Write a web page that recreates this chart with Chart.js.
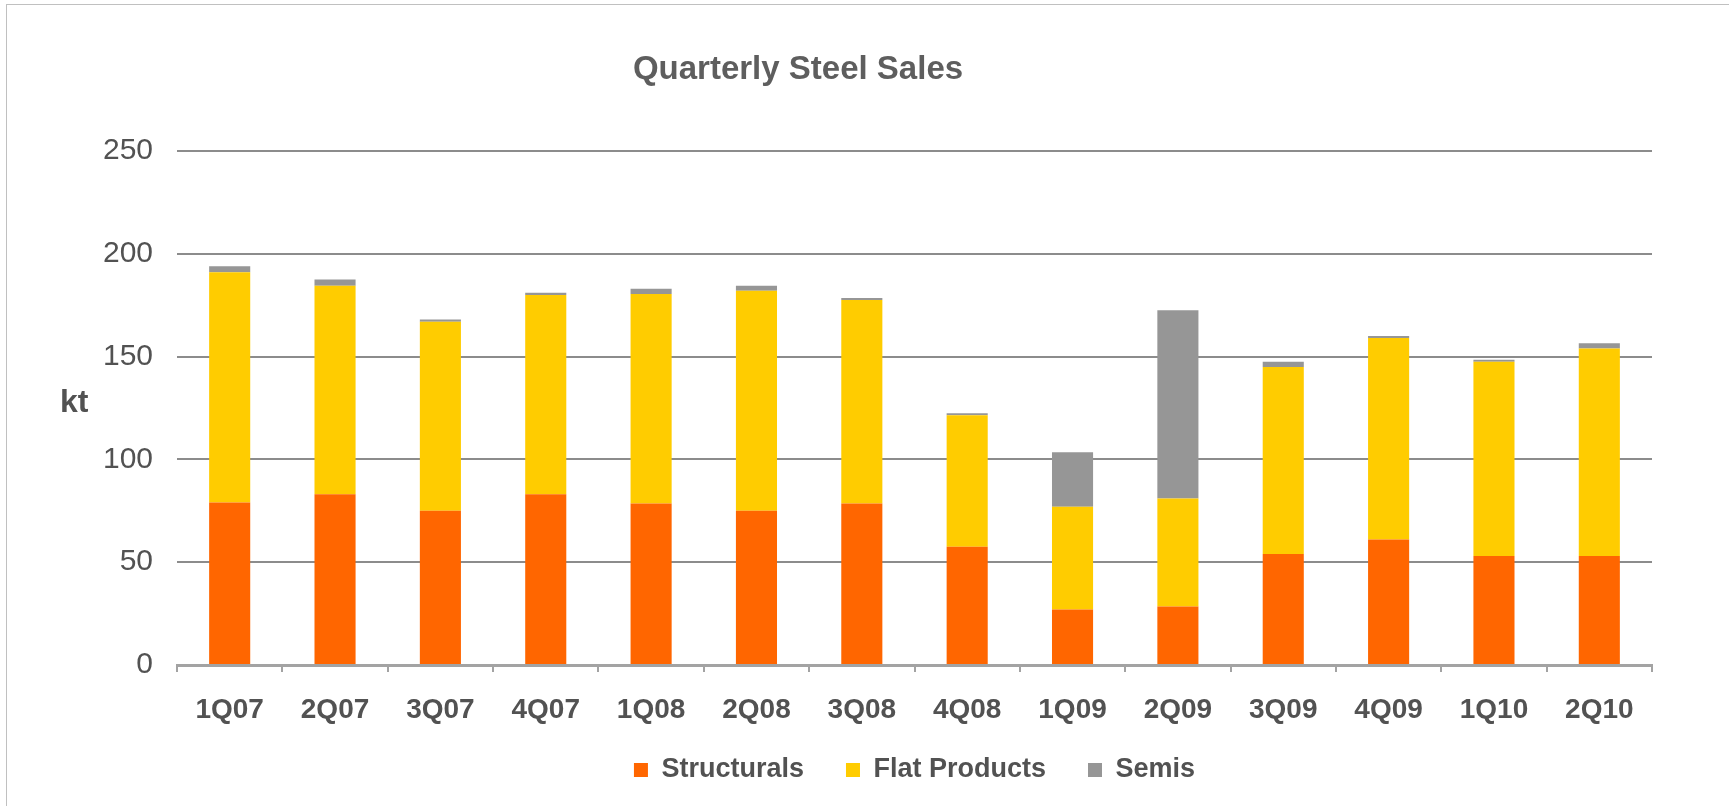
<!DOCTYPE html>
<html>
<head>
<meta charset="utf-8">
<title>Quarterly Steel Sales</title>
<script src="https://cdn.jsdelivr.net/npm/chart.js@4.4.1/dist/chart.umd.min.js"></script>
<style>
  html, body { margin: 0; padding: 0; background: #ffffff; }
  #wrap { position: relative; width: 1729px; height: 806px; }
</style>
</head>
<body>
<div id="wrap"><canvas id="chart"></canvas></div>
<script>
// Quarter labels along the x axis
const quarters = ['1Q07', '2Q07', '3Q07', '4Q07', '1Q08', '2Q08', '3Q08', '4Q08',
                  '1Q09', '2Q09', '3Q09', '4Q09', '1Q10', '2Q10'];

// Sales volumes in kt, stacked per quarter
const structurals  = [79, 83, 75, 83, 78.5, 75, 78.5, 57.5, 27, 28.5, 54, 61, 53, 53];
const flatProducts = [112, 101.5, 92, 97, 102, 107, 99, 64, 50, 52.5, 91, 98, 94.5, 101];
const semis        = [3, 3, 1, 1, 2.5, 2.5, 1, 1, 26.5, 91.5, 2.5, 1, 1, 2.5];

// Value axis ticks
const yTicks = [0, 50, 100, 150, 200, 250];

const TEXT = '#525252';
const FONT = "'Liberation Sans', Arial, Helvetica, sans-serif";

// Chart frame, heading, horizontal unit label and legend placement
const decorations = {
  id: 'decorations',
  afterLayout(chart) {
    // pull the legend row up closer to the category labels
    const lg = chart.legend;
    if (lg) { lg.top -= 12.5; lg.bottom -= 12.5; }
  },
  beforeDraw(chart) {
    const ctx = chart.ctx;
    ctx.save();
    ctx.fillStyle = '#ffffff';
    ctx.fillRect(0, 0, chart.width, chart.height);
    ctx.strokeStyle = '#c0c0c0';
    ctx.lineWidth = 1;
    ctx.strokeRect(6.5, 4.5, chart.width + 20, chart.height + 20);
    ctx.restore();
  },
  afterDraw(chart) {
    const ctx = chart.ctx;
    ctx.save();
    ctx.fillStyle = '#5e5e5e';
    ctx.textBaseline = 'middle';
    ctx.textAlign = 'center';
    ctx.font = "bold 33px " + FONT;
    ctx.fillText('Quarterly Steel Sales', 798, 70);
    ctx.fillStyle = TEXT;
    ctx.textAlign = 'left';
    ctx.font = "bold 32px " + FONT;
    const area = chart.chartArea;
    ctx.fillText('kt', 60, (area.top + area.bottom) / 2 - 5);
    ctx.restore();
  }
};

new Chart(document.getElementById('chart'), {
  type: 'bar',
  data: {
    labels: quarters,
    datasets: [
      { label: 'Structurals',   data: structurals,  backgroundColor: '#ff6600', borderWidth: 0 },
      { label: 'Flat Products', data: flatProducts, backgroundColor: '#ffcc00', borderWidth: 0 },
      { label: 'Semis',         data: semis,        backgroundColor: '#969696', borderWidth: 0 }
    ]
  },
  options: {
    responsive: true,
    maintainAspectRatio: false,
    animation: false,
    layout: { padding: { top: 151, right: 77, bottom: 0, left: 0 } },
    datasets: { bar: { barPercentage: 0.39, categoryPercentage: 1.0 } },
    plugins: {
      title: { display: false },
      tooltip: { enabled: false },
      legend: {
        position: 'bottom',
        fullSize: false,
        labels: {
          boxWidth: 14,
          boxHeight: 14,
          padding: 42,
          color: TEXT,
          font: { family: FONT, size: 27, weight: 'bold' }
        }
      }
    },
    scales: {
      x: {
        stacked: true,
        grid: {
          offset: true,
          drawOnChartArea: false,
          drawTicks: true,
          tickLength: 7,
          color: '#a3a3a3',
          lineWidth: 2
        },
        border: { display: true, color: '#a3a3a3', width: 3 },
        ticks: {
          color: TEXT,
          padding: 21,
          maxRotation: 0,
          font: { family: FONT, size: 28, weight: 'bold' }
        },
        afterFit(scale) { scale.height = 62; }
      },
      y: {
        stacked: true,
        min: yTicks[0],
        max: yTicks[yTicks.length - 1],
        grid: { drawTicks: false, color: '#8c8c8c', lineWidth: 2 },
        border: { display: false },
        afterBuildTicks(scale) { scale.ticks = yTicks.map(v => ({ value: v })); },
        ticks: {
          color: TEXT,
          padding: 24,
          font: { family: FONT, size: 30 }
        },
        afterFit(scale) { scale.width = 177; }
      }
    }
  },
  plugins: [decorations]
});
</script>
</body>
</html>
